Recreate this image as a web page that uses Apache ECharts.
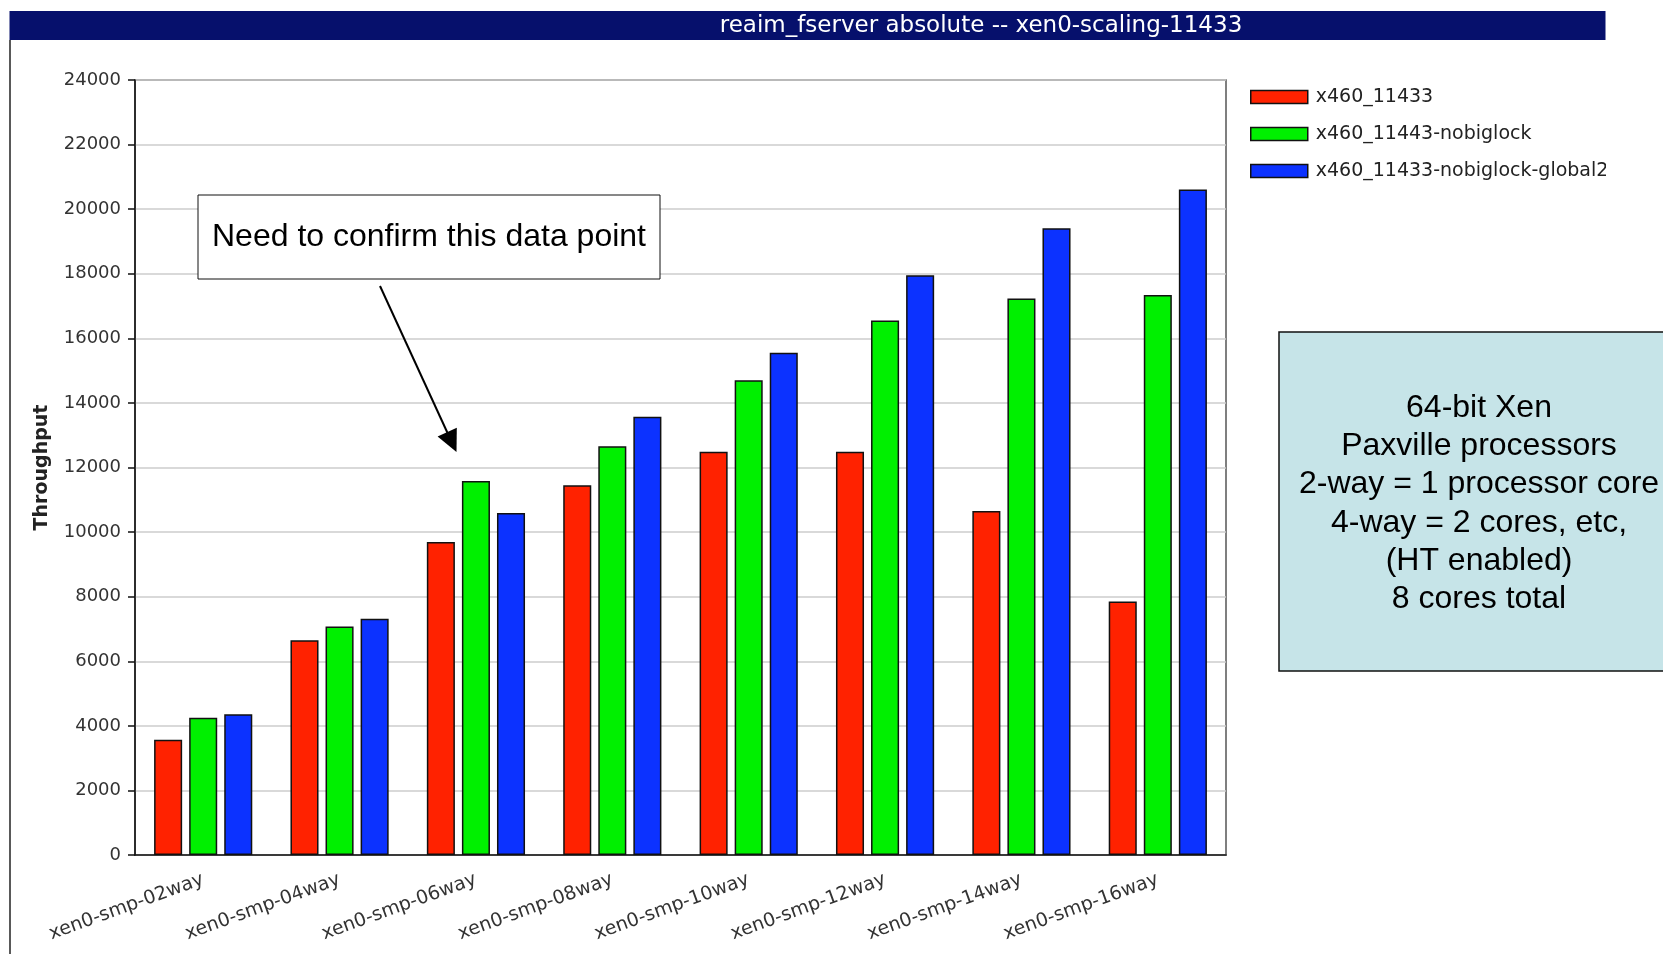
<!DOCTYPE html>
<html><head><meta charset="utf-8">
<script src="https://cdn.jsdelivr.net/npm/echarts@6/dist/echarts.min.js"></script>
<style>html,body{margin:0;padding:0;background:#fff}#c{width:1663px;height:954px}</style>
</head><body><div id="c"></div>
<script>
const categories = ['xen0-smp-02way','xen0-smp-04way','xen0-smp-06way','xen0-smp-08way','xen0-smp-10way','xen0-smp-12way','xen0-smp-14way','xen0-smp-16way'];
const seriesNames = ['x460_11433','x460_11443-nobiglock','x460_11433-nobiglock-global2'];
const redValues   = [3570, 6650, 9690, 11450, 12490, 12490, 10650, 7850];
const greenValues = [4250, 7080, 11580, 12660, 14700, 16550, 17230, 17340];
const blueValues  = [4360, 7320, 10590, 13570, 15550, 17950, 19410, 20610];
const yMin = 0, yMax = 24000, yInterval = 2000;
const titleText = 'reaim_fserver absolute -- xen0-scaling-11433';
const yName = 'Throughput';
const noteText = 'Need to confirm this data point';
const infoLines = ['64-bit Xen','Paxville processors','2-way = 1 processor core','4-way = 2 cores, etc,','(HT enabled)','8 cores total'];

const colors = ['#ff2200', '#00f000', '#0c32ff'];
const chart = echarts.init(document.getElementById('c'), null, {renderer: 'canvas'});
const FONT = 'DejaVu Sans';
const barStyle = c => ({color: c, borderColor: '#111', borderWidth: 1.5});

const option = {
  animation: false,
  backgroundColor: '#fff',
  grid: {left: 135, right: 437, top: 80, bottom: 99, show: true, borderColor: '#555', borderWidth: 1.5, backgroundColor: 'transparent'},
  legend: {
    orient: 'vertical', left: 1245, top: 82,
    itemWidth: 57, itemHeight: 13, itemGap: 17,
    icon: 'rect',
    textStyle: {fontFamily: FONT, fontSize: 19, color: '#222', lineHeight: 20, padding: [0, 0, 0, 3]},
    itemStyle: {borderColor: '#111', borderWidth: 1.5},
    data: seriesNames
  },
  xAxis: {
    type: 'category', data: categories,
    axisLine: {lineStyle: {color: '#111', width: 1.5}},
    axisTick: {alignWithLabel: true, length: 7, lineStyle: {color: '#111', width: 1.5}},
    axisLabel: {rotate: 20, margin: 24, interval: 0, fontFamily: FONT, fontSize: 19, color: '#333'},
    splitLine: {show: false}
  },
  yAxis: {
    type: 'value', min: yMin, max: yMax, interval: yInterval,
    name: yName, nameLocation: 'middle', nameGap: 83, nameRotate: 90,
    nameTextStyle: {fontFamily: FONT, fontSize: 19, fontWeight: 'bold', color: '#222'},
    axisLine: {show: true, lineStyle: {color: '#111', width: 1.5}},
    axisTick: {show: true, length: 7, lineStyle: {color: '#111', width: 1.5}},
    axisLabel: {margin: 14, fontFamily: FONT, fontSize: 18, color: '#333', formatter: v => String(v)},
    splitLine: {lineStyle: {color: '#cccccc', width: 1.5}}
  },
  series: [
    {name: seriesNames[0], type: 'bar', data: redValues, itemStyle: barStyle(colors[0]), barGap: '25%', barCategoryGap: '28%'},
    {name: seriesNames[1], type: 'bar', data: greenValues, itemStyle: barStyle(colors[1]), barGap: '25%', barCategoryGap: '28%'},
    {name: seriesNames[2], type: 'bar', data: blueValues, itemStyle: barStyle(colors[2]), barGap: '25%', barCategoryGap: '28%'}
  ],
  graphic: [
    {type: 'rect', z: 100, shape: {x: 9.5, y: 11, width: 1596, height: 29}, style: {fill: '#06106c'}},
    {type: 'text', z: 101, x: 981, y: 26, style: {text: titleText, fill: '#fff', font: '23px "DejaVu Sans"', textAlign: 'center', textVerticalAlign: 'middle'}},
    {type: 'line', z: 100, shape: {x1: 10, y1: 40, x2: 10, y2: 954}, style: {stroke: '#222', lineWidth: 1.5}},
    {type: 'rect', z: 100, shape: {x: 1606, y: 70, width: 60, height: 120}, style: {fill: '#fff'}},
    {type: 'rect', z: 100, shape: {x: 198, y: 195, width: 462, height: 84}, style: {fill: '#fff', stroke: '#111', lineWidth: 1}},
    {type: 'text', z: 101, x: 429, y: 237, style: {text: noteText, fill: '#000', font: '32px "Liberation Sans"', textAlign: 'center', textVerticalAlign: 'middle'}},
    {type: 'line', z: 100, shape: {x1: 380, y1: 286, x2: 448, y2: 434}, style: {stroke: '#000', lineWidth: 2}},
    {type: 'polygon', z: 100, shape: {points: [[456.5, 452], [437.6, 436.6], [456.8, 427.8]]}, style: {fill: '#000'}},
    {type: 'rect', z: 100, shape: {x: 1279, y: 332, width: 420, height: 339}, style: {fill: '#c6e4e8', stroke: '#111', lineWidth: 1.5}},
    {type: 'text', z: 101, x: 1479, y: 389, style: {text: infoLines.join('\n'), fill: '#000', font: '32px "Liberation Sans"', lineHeight: 38.2, textAlign: 'center', textVerticalAlign: 'top'}}
  ]
};
chart.setOption(option);
</script></body></html>
